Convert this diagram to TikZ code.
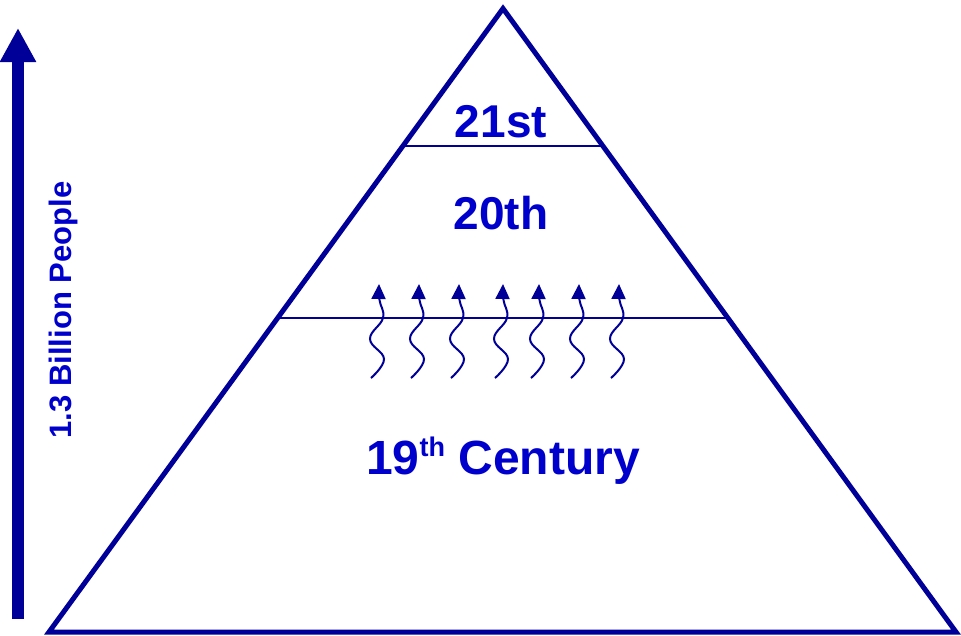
\documentclass[tikz,border=0pt]{standalone}
\usepackage{fontspec}
\setmainfont{Liberation Sans}
\usetikzlibrary{arrows.meta}
\definecolor{navy}{RGB}{0,0,153}
\definecolor{txtblue}{RGB}{0,0,204}
\tikzset{
  frame/.style={draw=navy, line width=5pt, line join=miter},
  divider/.style={draw=navy, line width=2.2pt},
  lbl/.style={text=txtblue, font=\fontsize{46}{50}\selectfont\bfseries, inner sep=0pt},
  wave/.style={draw=navy, line width=2pt, -{Triangle[length=15pt,width=14pt]}},
}
\begin{document}
\begin{tikzpicture}[x=1pt,y=-1pt]
\useasboundingbox (0,0) rectangle (961,635);
% triangle
\coordinate (apex) at (503,8.5);
\coordinate (bl) at (49,632);
\coordinate (br) at (956,632);
\draw[frame] (apex) -- (bl) -- (br) -- cycle;
% dividers
\coordinate (d1l) at (405,146);
\coordinate (d1r) at (601,146);
\coordinate (d2l) at (279,318);
\coordinate (d2r) at (727,318);
\draw[divider] (d1l) -- (d1r);
\draw[divider] (d2l) -- (d2r);
% labels
\node[lbl] (c21) at (501,122) {21st};
\node[lbl] (c20) at (501,213) {20th};
\node[lbl, anchor=base, font=\fontsize{48}{52}\selectfont\bfseries] (c19) at (503,474) {19\raisebox{18pt}{\fontsize{27}{29}\selectfont th} Century};
% vertical arrow
\coordinate (ab) at (18,619);
\coordinate (at) at (18,28);
\draw[navy, line width=12pt, -{Triangle[length=34pt,width=34pt]}] (ab) -- (at);
\node[rotate=90, text=txtblue, font=\fontsize{31}{34}\selectfont\bfseries, inner sep=0pt] (pop) at (63,310) {1.3 Billion People};
% wavy arrows
\foreach \t in {379,419,459,503,539,579,619} {
  \draw[wave] plot[smooth, tension=0.7] coordinates {(\t-8,378) (\t+5,359) (\t-9,339) (\t+4,318) (\t+0.5,300) (\t,284)};
}
\end{tikzpicture}
\end{document}
